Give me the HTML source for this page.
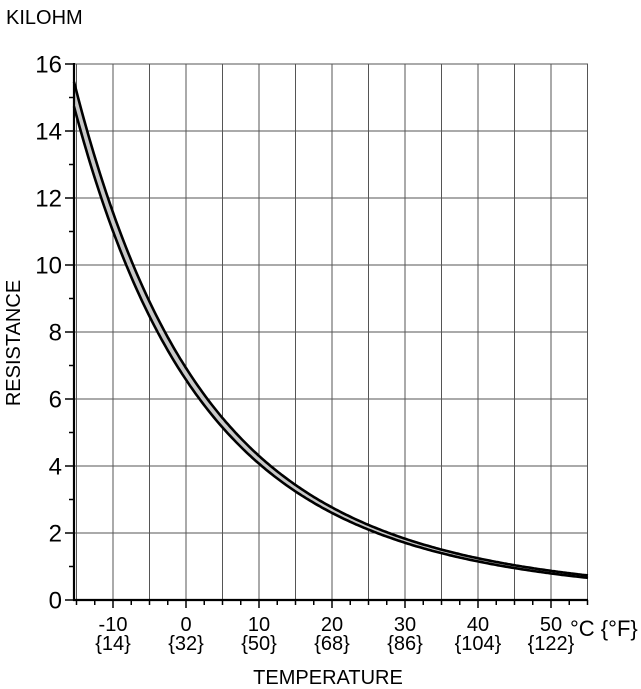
<!DOCTYPE html>
<html><head><meta charset="utf-8"><style>
body{margin:0;background:#fff;}
svg{display:block;font-family:"Liberation Sans",Arial,sans-serif;}
</style></head><body>
<svg id="s" width="641" height="689" xmlns="http://www.w3.org/2000/svg">
<text x="6" y="24" style="font-size:20px">KILOHM</text>
<g id="grid"></g>
<path id="band" fill="#c8c8c8" stroke="none"/>
<path id="up" fill="none" stroke="#000" stroke-width="2.6"/>
<path id="lo" fill="none" stroke="#000" stroke-width="2.6"/>
<g id="ax"></g>
<text transform="translate(20,343) rotate(-90)" text-anchor="middle" style="font-size:20px">RESISTANCE</text>
<text x="328" y="684" text-anchor="middle" style="font-size:20px">TEMPERATURE</text>
<text x="570" y="636" style="font-size:22px">°C {°F}</text>
</svg>
<script>
var L=74,R=588,T=64,B=600;
function X(c){return 186+c*7.3;}
function Y(v){return B-v*33.5;}
var g='',a='';
for(var c=-15;c<=55;c+=5){var x=X(c);if(x>L+1)g+='<line x1="'+x+'" y1="'+T+'" x2="'+x+'" y2="'+B+'" stroke="#555" stroke-width="1"/>';}
for(var v=2;v<=16;v+=2){g+='<line x1="'+L+'" y1="'+Y(v)+'" x2="'+R+'" y2="'+Y(v)+'" stroke="#555" stroke-width="1"/>';}
a+='<line x1="'+L+'" y1="'+(T-1)+'" x2="'+L+'" y2="'+(B+1)+'" stroke="#000" stroke-width="2.2"/>';
a+='<line x1="'+(L-1)+'" y1="'+B+'" x2="'+R+'" y2="'+B+'" stroke="#000" stroke-width="2.2"/>';
for(var v=0;v<=16;v++){var y=Y(v);a+='<line x1="'+(v%2?L-5:L-9)+'" y1="'+y+'" x2="'+L+'" y2="'+y+'" stroke="#000" stroke-width="1.5"/>';
 if(v%2==0)a+='<text x="'+(L-12)+'" y="'+(y+8.5)+'" text-anchor="end" style="font-size:24px">'+v+'</text>';}
for(var c=-15;c<=55;c+=2.5){var x=X(c);if(x<L-1)continue;var big=(c%10==0);a+='<line x1="'+x+'" y1="'+B+'" x2="'+x+'" y2="'+(B+(big?8:5))+'" stroke="#000" stroke-width="1.5"/>';}
var labs=[[-10,14],[0,32],[10,50],[20,68],[30,86],[40,104],[50,122]];
labs.forEach(function(p){var x=X(p[0]);a+='<text x="'+x+'" y="631" text-anchor="middle" style="font-size:20px">'+p[0]+'</text><text x="'+x+'" y="650" text-anchor="middle" style="font-size:20px">{'+p[1]+'}</text>';});
document.getElementById('grid').innerHTML=g;document.getElementById('ax').innerHTML=a;
function r(c){return 6.75*Math.exp(3696*(1/(c+273.15)-1/273.15));}
var up=[],lo=[];
for(var x=L;x<=R;x+=2){var c=(x-186)/7.3;var v=r(c);var d=0.023*v+0.02;up.push([x,Y(v+d)]);lo.push([x,Y(v-d)]);}
function P(a){return 'M'+a.map(function(p){return p[0].toFixed(1)+','+p[1].toFixed(1)}).join('L');}
document.getElementById('up').setAttribute('d',P(up));
document.getElementById('lo').setAttribute('d',P(lo));
document.getElementById('band').setAttribute('d',P(up)+'L'+lo.slice().reverse().map(function(p){return p[0].toFixed(1)+','+p[1].toFixed(1)}).join('L')+'Z');
</script>
</body></html>
